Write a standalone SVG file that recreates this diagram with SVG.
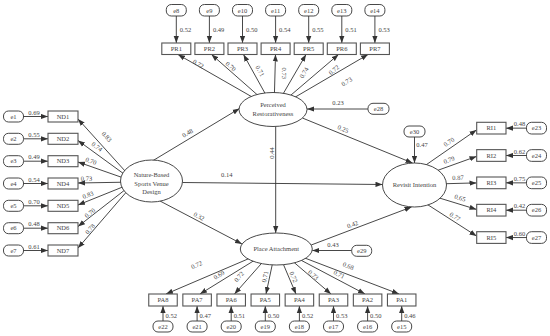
<svg xmlns="http://www.w3.org/2000/svg" width="550" height="336" viewBox="0 0 550 336">
<style>
text{font-family:"Liberation Serif","Times New Roman",serif;font-size:6.5px;fill:#444}
.m{text-anchor:middle}
.c line{stroke:#333;stroke-width:0.9;marker-end:url(#ah)}
.box{fill:#fff;stroke:#555;stroke-width:1.1}
.err{fill:#fff;stroke:#333;stroke-width:0.9}
.lat{fill:#fff;stroke:#333;stroke-width:0.9}
</style>
<defs>
<marker id="ah" markerUnits="userSpaceOnUse" markerWidth="7" markerHeight="6" refX="7" refY="3" orient="auto"><path d="M0,0.4 L7,3 L0,5.6 z" fill="#333"/></marker>
</defs>
<rect width="550" height="336" fill="#fff"/>
<g id="connectors" class="c">
<line x1="274" y1="109.5" x2="178" y2="54.5"/>
<line x1="274" y1="109.5" x2="211.5" y2="54.5"/>
<line x1="274" y1="109.5" x2="243.5" y2="54.5"/>
<line x1="274" y1="109.5" x2="275.5" y2="54.5"/>
<line x1="274" y1="109.5" x2="306" y2="54.5"/>
<line x1="274" y1="109.5" x2="338.5" y2="54.5"/>
<line x1="274" y1="109.5" x2="368" y2="54.5"/>
<line x1="176.3" y1="16" x2="176.3" y2="43"/>
<line x1="209.4" y1="16" x2="209.4" y2="43"/>
<line x1="242.5" y1="16" x2="242.5" y2="43"/>
<line x1="275.6" y1="16" x2="275.6" y2="43"/>
<line x1="308.7" y1="16" x2="308.7" y2="43"/>
<line x1="341.8" y1="16" x2="341.8" y2="43"/>
<line x1="374.9" y1="16" x2="374.9" y2="43"/>
<line x1="135" y1="182" x2="78" y2="119"/>
<line x1="135" y1="182" x2="78" y2="140.5"/>
<line x1="135" y1="182" x2="78" y2="162"/>
<line x1="135" y1="182" x2="78" y2="183"/>
<line x1="135" y1="182" x2="78" y2="205"/>
<line x1="135" y1="182" x2="78" y2="226.5"/>
<line x1="135" y1="182" x2="78" y2="248"/>
<line x1="23.5" y1="116.5" x2="48" y2="116.5"/>
<line x1="23.5" y1="138.8" x2="48" y2="138.8"/>
<line x1="23.5" y1="161.2" x2="48" y2="161.2"/>
<line x1="23.5" y1="183.5" x2="48" y2="183.5"/>
<line x1="23.5" y1="205.8" x2="48" y2="205.8"/>
<line x1="23.5" y1="228.2" x2="48" y2="228.2"/>
<line x1="23.5" y1="250.5" x2="48" y2="250.5"/>
<line x1="397" y1="185" x2="476.5" y2="129.9"/>
<line x1="397" y1="185" x2="476.5" y2="156.4"/>
<line x1="397" y1="185" x2="476.5" y2="182.9"/>
<line x1="397" y1="185" x2="476.5" y2="209.4"/>
<line x1="397" y1="185" x2="476.5" y2="236"/>
<line x1="526.5" y1="128.15" x2="506" y2="128.15"/>
<line x1="526.5" y1="155.5" x2="506" y2="155.5"/>
<line x1="526.5" y1="182.85" x2="506" y2="182.85"/>
<line x1="526.5" y1="210.2" x2="506" y2="210.2"/>
<line x1="526.5" y1="237.55" x2="506" y2="237.55"/>
<line x1="276" y1="247" x2="166" y2="294"/>
<line x1="276" y1="247" x2="200" y2="294"/>
<line x1="276" y1="247" x2="234.5" y2="294"/>
<line x1="276" y1="247" x2="266" y2="294"/>
<line x1="276" y1="247" x2="296" y2="294"/>
<line x1="276" y1="247" x2="331" y2="294"/>
<line x1="276" y1="247" x2="365" y2="294"/>
<line x1="276" y1="247" x2="399" y2="294"/>
<line x1="163" y1="321" x2="163" y2="306"/>
<line x1="197.1" y1="321" x2="197.1" y2="306"/>
<line x1="231.2" y1="321" x2="231.2" y2="306"/>
<line x1="265.3" y1="321" x2="265.3" y2="306"/>
<line x1="299.4" y1="321" x2="299.4" y2="306"/>
<line x1="333.5" y1="321" x2="333.5" y2="306"/>
<line x1="367.6" y1="321" x2="367.6" y2="306"/>
<line x1="401.7" y1="321" x2="401.7" y2="306"/>
<line x1="152.3" y1="161" x2="239.5" y2="108.5"/>
<line x1="182.5" y1="182.5" x2="382.5" y2="184.5"/>
<line x1="160" y1="201" x2="242" y2="244"/>
<line x1="275.7" y1="126.5" x2="275.7" y2="233"/>
<line x1="302.4" y1="118" x2="412.5" y2="163"/>
<line x1="311.2" y1="245" x2="411.5" y2="207"/>
<line x1="368" y1="109" x2="307" y2="109"/>
<line x1="351.7" y1="250.5" x2="312.3" y2="250.5"/>
<line x1="414.5" y1="137" x2="414.5" y2="163"/>
</g>
<g id="labels">
<text x="179.8" y="31.5">0.52</text>
<text x="212.9" y="31.5">0.49</text>
<text x="246" y="31.5">0.50</text>
<text x="279.1" y="31.5">0.54</text>
<text x="312.2" y="31.5">0.55</text>
<text x="345.3" y="31.5">0.51</text>
<text x="378.4" y="31.5">0.53</text>
<text class="m" transform="translate(198.3,64) rotate(29.8)" y="2.2">0.72</text>
<text class="m" transform="translate(230.7,66.5) rotate(41.3)" y="2.2">0.70</text>
<text class="m" transform="translate(260,71) rotate(61)" y="2.2">0.71</text>
<text class="m" transform="translate(284.5,73.3) rotate(90)" y="2.2">0.73</text>
<text class="m" transform="translate(304,72.7) rotate(-59.8)" y="2.2">0.74</text>
<text class="m" transform="translate(334,70) rotate(-40.5)" y="2.2">0.72</text>
<text class="m" transform="translate(346.7,81.7) rotate(-30.3)" y="2.2">0.73</text>
<text class="m" x="34" y="114.7">0.69</text>
<text class="m" x="34" y="137">0.55</text>
<text class="m" x="34" y="159.4">0.49</text>
<text class="m" x="34" y="181.7">0.54</text>
<text class="m" x="34" y="204">0.70</text>
<text class="m" x="34" y="226.4">0.48</text>
<text class="m" x="34" y="248.7">0.61</text>
<text class="m" transform="translate(106.7,136.7) rotate(47.9)" y="2.2">0.83</text>
<text class="m" transform="translate(97,146.7) rotate(36.2)" y="2.2">0.74</text>
<text class="m" transform="translate(91,161) rotate(19.6)" y="2.2">0.70</text>
<text class="m" transform="translate(86.5,178.5) rotate(-1)" y="2.2">0.73</text>
<text class="m" transform="translate(88,195) rotate(-21.3)" y="2.2">0.83</text>
<text class="m" transform="translate(90,213) rotate(-37.4)" y="2.2">0.70</text>
<text class="m" transform="translate(90,229) rotate(-48.7)" y="2.2">0.78</text>
<text class="m" x="519.5" y="126.3">0.48</text>
<text class="m" x="519.5" y="153.7">0.62</text>
<text class="m" x="519.5" y="181">0.75</text>
<text class="m" x="519.5" y="208.4">0.42</text>
<text class="m" x="519.5" y="235.7">0.60</text>
<text class="m" transform="translate(449,142) rotate(-34.7)" y="2.2">0.70</text>
<text class="m" transform="translate(449,160) rotate(-19.8)" y="2.2">0.79</text>
<text class="m" transform="translate(458,177.7) rotate(-1.5)" y="2.2">0.87</text>
<text class="m" transform="translate(460,198) rotate(17.1)" y="2.2">0.65</text>
<text class="m" transform="translate(455,216.7) rotate(32.7)" y="2.2">0.77</text>
<text x="165.5" y="318">0.52</text>
<text x="199.6" y="318">0.47</text>
<text x="233.7" y="318">0.51</text>
<text x="267.8" y="318">0.50</text>
<text x="301.9" y="318">0.52</text>
<text x="336" y="318">0.53</text>
<text x="370.1" y="318">0.50</text>
<text x="404.2" y="318">0.46</text>
<text class="m" transform="translate(196.7,265) rotate(-23.1)" y="2.2">0.72</text>
<text class="m" transform="translate(219,275) rotate(-31.7)" y="2.2">0.69</text>
<text class="m" transform="translate(239,276.7) rotate(-48.6)" y="2.2">0.72</text>
<text class="m" transform="translate(265,276.7) rotate(-78)" y="2.2">0.71</text>
<text class="m" transform="translate(293.5,277) rotate(67)" y="2.2">0.72</text>
<text class="m" transform="translate(313.3,275) rotate(40.5)" y="2.2">0.73</text>
<text class="m" transform="translate(339,274.5) rotate(27.8)" y="2.2">0.71</text>
<text class="m" transform="translate(348.3,266) rotate(20.9)" y="2.2">0.68</text>
<text class="m" transform="translate(187.5,133) rotate(-31)" y="2.2">0.48</text>
<text class="m" x="226.7" y="177.3">0.14</text>
<text class="m" transform="translate(199,216.5) rotate(28)" y="2.2">0.32</text>
<text class="m" transform="translate(271.7,153) rotate(-90)" y="2.2">0.44</text>
<text class="m" transform="translate(343,129) rotate(23)" y="2.2">0.25</text>
<text class="m" transform="translate(352.5,224.5) rotate(-20)" y="2.2">0.42</text>
<text class="m" x="338" y="105.3">0.23</text>
<text class="m" x="333" y="246.5">0.43</text>
<text class="m" x="422" y="147.3">0.47</text>
</g>
<g id="PR">
<ellipse class="lat" cx="273" cy="109.5" rx="34" ry="17"/>
<text class="m" x="273" y="106.5">Perceived</text>
<text class="m" x="273" y="115.5">Restorativeness</text>
</g>
<g id="NB">
<ellipse class="lat" cx="151.5" cy="181" rx="31" ry="21"/>
<text class="m" x="151.5" y="177.3">Nature-Based</text>
<text class="m" x="151.5" y="185.6">Sports Venue</text>
<text class="m" x="151.5" y="194">Design</text>
</g>
<g id="RI">
<ellipse class="lat" cx="414.5" cy="185" rx="32" ry="22"/>
<text class="m" x="414.5" y="186.7">Revisit Intention</text>
</g>
<g id="PA">
<ellipse class="lat" cx="276.3" cy="249" rx="36" ry="16"/>
<text class="m" x="276.3" y="251.3">Place Attachment</text>
</g>
<g id="PR1"><rect class="box" x="161.8" y="43" width="29" height="11.5"/><text class="m" x="176.3" y="51">PR1</text></g>
<g id="PR2"><rect class="box" x="194.9" y="43" width="29" height="11.5"/><text class="m" x="209.4" y="51">PR2</text></g>
<g id="PR3"><rect class="box" x="228" y="43" width="29" height="11.5"/><text class="m" x="242.5" y="51">PR3</text></g>
<g id="PR4"><rect class="box" x="261.1" y="43" width="29" height="11.5"/><text class="m" x="275.6" y="51">PR4</text></g>
<g id="PR5"><rect class="box" x="294.2" y="43" width="29" height="11.5"/><text class="m" x="308.7" y="51">PR5</text></g>
<g id="PR6"><rect class="box" x="327.3" y="43" width="29" height="11.5"/><text class="m" x="341.8" y="51">PR6</text></g>
<g id="PR7"><rect class="box" x="360.4" y="43" width="29" height="11.5"/><text class="m" x="374.9" y="51">PR7</text></g>
<g id="e8"><rect class="err" x="166.3" y="4.5" width="20" height="11.5" rx="5"/><text class="m" x="176.3" y="12.5">e8</text></g>
<g id="e9"><rect class="err" x="199.4" y="4.5" width="20" height="11.5" rx="5"/><text class="m" x="209.4" y="12.5">e9</text></g>
<g id="e10"><rect class="err" x="232.5" y="4.5" width="20" height="11.5" rx="5"/><text class="m" x="242.5" y="12.5">e10</text></g>
<g id="e11"><rect class="err" x="265.6" y="4.5" width="20" height="11.5" rx="5"/><text class="m" x="275.6" y="12.5">e11</text></g>
<g id="e12"><rect class="err" x="298.7" y="4.5" width="20" height="11.5" rx="5"/><text class="m" x="308.7" y="12.5">e12</text></g>
<g id="e13"><rect class="err" x="331.8" y="4.5" width="20" height="11.5" rx="5"/><text class="m" x="341.8" y="12.5">e13</text></g>
<g id="e14"><rect class="err" x="364.9" y="4.5" width="20" height="11.5" rx="5"/><text class="m" x="374.9" y="12.5">e14</text></g>
<g id="ND1"><rect class="box" x="48" y="111" width="30" height="11"/><text class="m" x="63" y="118.7">ND1</text></g>
<g id="ND2"><rect class="box" x="48" y="133.3" width="30" height="11"/><text class="m" x="63" y="141">ND2</text></g>
<g id="ND3"><rect class="box" x="48" y="155.7" width="30" height="11"/><text class="m" x="63" y="163.4">ND3</text></g>
<g id="ND4"><rect class="box" x="48" y="178" width="30" height="11"/><text class="m" x="63" y="185.7">ND4</text></g>
<g id="ND5"><rect class="box" x="48" y="200.3" width="30" height="11"/><text class="m" x="63" y="208">ND5</text></g>
<g id="ND6"><rect class="box" x="48" y="222.7" width="30" height="11"/><text class="m" x="63" y="230.4">ND6</text></g>
<g id="ND7"><rect class="box" x="48" y="245" width="30" height="11"/><text class="m" x="63" y="252.7">ND7</text></g>
<g id="e1"><rect class="err" x="3.5" y="111" width="20" height="11" rx="5"/><text class="m" x="13.5" y="118.7">e1</text></g>
<g id="e2"><rect class="err" x="3.5" y="133.3" width="20" height="11" rx="5"/><text class="m" x="13.5" y="141">e2</text></g>
<g id="e3"><rect class="err" x="3.5" y="155.7" width="20" height="11" rx="5"/><text class="m" x="13.5" y="163.4">e3</text></g>
<g id="e4"><rect class="err" x="3.5" y="178" width="20" height="11" rx="5"/><text class="m" x="13.5" y="185.7">e4</text></g>
<g id="e5"><rect class="err" x="3.5" y="200.3" width="20" height="11" rx="5"/><text class="m" x="13.5" y="208">e5</text></g>
<g id="e6"><rect class="err" x="3.5" y="222.7" width="20" height="11" rx="5"/><text class="m" x="13.5" y="230.4">e6</text></g>
<g id="e7"><rect class="err" x="3.5" y="245" width="20" height="11" rx="5"/><text class="m" x="13.5" y="252.7">e7</text></g>
<g id="RI1"><rect class="box" x="476.7" y="122.3" width="29.3" height="11.7"/><text class="m" x="491.35" y="130.4">RI1</text></g>
<g id="RI2"><rect class="box" x="476.7" y="149.65" width="29.3" height="11.7"/><text class="m" x="491.35" y="157.7">RI2</text></g>
<g id="RI3"><rect class="box" x="476.7" y="177" width="29.3" height="11.7"/><text class="m" x="491.35" y="185.1">RI3</text></g>
<g id="RI4"><rect class="box" x="476.7" y="204.35" width="29.3" height="11.7"/><text class="m" x="491.35" y="212.4">RI4</text></g>
<g id="RI5"><rect class="box" x="476.7" y="231.7" width="29.3" height="11.7"/><text class="m" x="491.35" y="239.8">RI5</text></g>
<g id="e23"><rect class="err" x="526.5" y="122.3" width="20" height="11.7" rx="5"/><text class="m" x="536.5" y="130.4">e23</text></g>
<g id="e24"><rect class="err" x="526.5" y="149.65" width="20" height="11.7" rx="5"/><text class="m" x="536.5" y="157.7">e24</text></g>
<g id="e25"><rect class="err" x="526.5" y="177" width="20" height="11.7" rx="5"/><text class="m" x="536.5" y="185.1">e25</text></g>
<g id="e26"><rect class="err" x="526.5" y="204.35" width="20" height="11.7" rx="5"/><text class="m" x="536.5" y="212.4">e26</text></g>
<g id="e27"><rect class="err" x="526.5" y="231.7" width="20" height="11.7" rx="5"/><text class="m" x="536.5" y="239.8">e27</text></g>
<g id="PA8"><rect class="box" x="148.75" y="294" width="28.5" height="12"/><text class="m" x="163" y="302.2">PA8</text></g>
<g id="PA7"><rect class="box" x="182.85" y="294" width="28.5" height="12"/><text class="m" x="197.1" y="302.2">PA7</text></g>
<g id="PA6"><rect class="box" x="216.95" y="294" width="28.5" height="12"/><text class="m" x="231.2" y="302.2">PA6</text></g>
<g id="PA5"><rect class="box" x="251.05" y="294" width="28.5" height="12"/><text class="m" x="265.3" y="302.2">PA5</text></g>
<g id="PA4"><rect class="box" x="285.15" y="294" width="28.5" height="12"/><text class="m" x="299.4" y="302.2">PA4</text></g>
<g id="PA3"><rect class="box" x="319.25" y="294" width="28.5" height="12"/><text class="m" x="333.5" y="302.2">PA3</text></g>
<g id="PA2"><rect class="box" x="353.35" y="294" width="28.5" height="12"/><text class="m" x="367.6" y="302.2">PA2</text></g>
<g id="PA1"><rect class="box" x="387.45" y="294" width="28.5" height="12"/><text class="m" x="401.7" y="302.2">PA1</text></g>
<g id="e22"><rect class="err" x="153" y="321" width="20" height="11" rx="5"/><text class="m" x="163" y="328.7">e22</text></g>
<g id="e21"><rect class="err" x="187.1" y="321" width="20" height="11" rx="5"/><text class="m" x="197.1" y="328.7">e21</text></g>
<g id="e20"><rect class="err" x="221.2" y="321" width="20" height="11" rx="5"/><text class="m" x="231.2" y="328.7">e20</text></g>
<g id="e19"><rect class="err" x="255.3" y="321" width="20" height="11" rx="5"/><text class="m" x="265.3" y="328.7">e19</text></g>
<g id="e18"><rect class="err" x="289.4" y="321" width="20" height="11" rx="5"/><text class="m" x="299.4" y="328.7">e18</text></g>
<g id="e17"><rect class="err" x="323.5" y="321" width="20" height="11" rx="5"/><text class="m" x="333.5" y="328.7">e17</text></g>
<g id="e16"><rect class="err" x="357.6" y="321" width="20" height="11" rx="5"/><text class="m" x="367.6" y="328.7">e16</text></g>
<g id="e15"><rect class="err" x="391.7" y="321" width="20" height="11" rx="5"/><text class="m" x="401.7" y="328.7">e15</text></g>
<g id="e28"><rect class="err" x="368" y="103.3" width="21" height="11" rx="5"/><text class="m" x="378.5" y="111">e28</text></g>
<g id="e29"><rect class="err" x="351.7" y="245.3" width="20" height="11" rx="5"/><text class="m" x="361.7" y="253">e29</text></g>
<g id="e30"><rect class="err" x="404" y="126" width="21" height="11" rx="5"/><text class="m" x="414.5" y="133.7">e30</text></g>
</svg>
